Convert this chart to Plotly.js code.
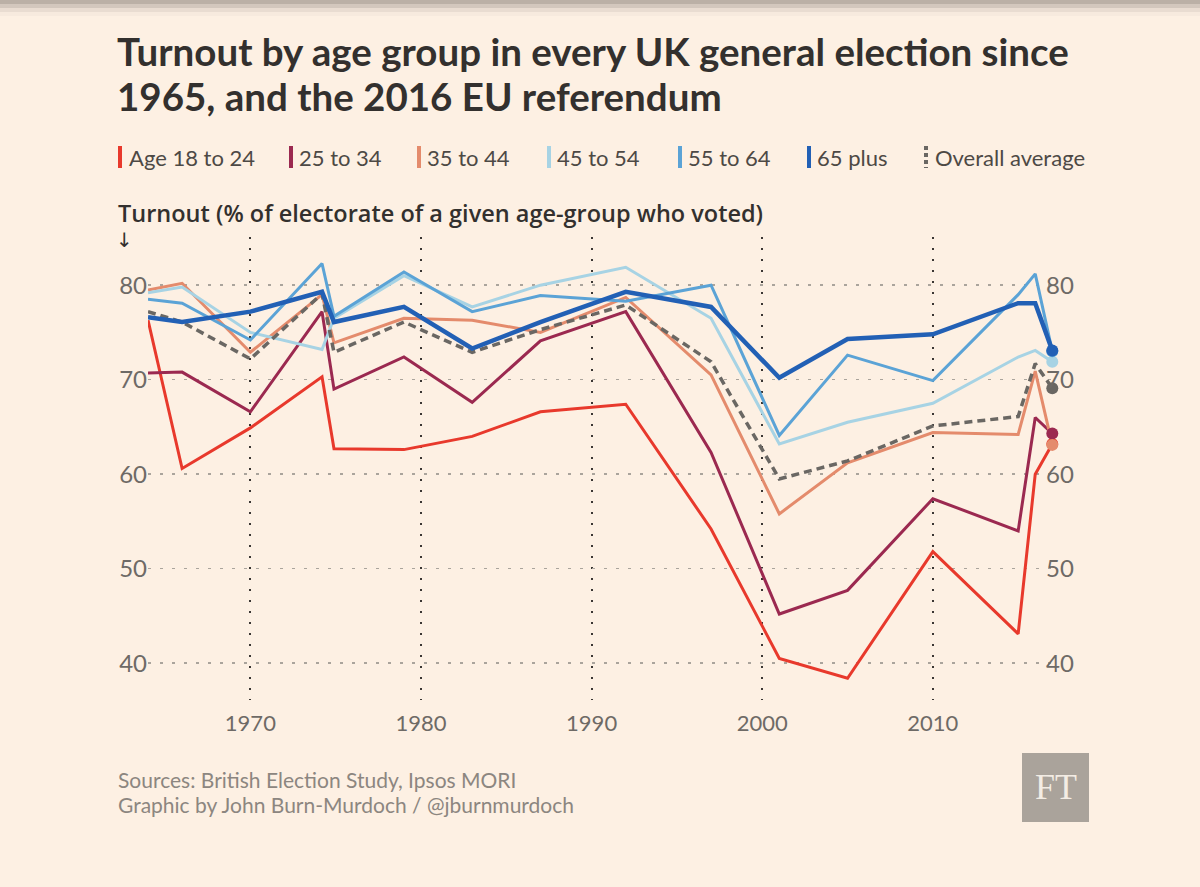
<!DOCTYPE html>
<html>
<head>
<meta charset="utf-8">
<script src="https://cdn.plot.ly/plotly-3.0.1.min.js"></script>
<style>
  html, body { margin: 0; padding: 0; background: #fdf0e3; }
  #chart { width: 1200px; height: 887px; }
</style>
</head>
<body>
<div id="chart"></div>
<script>
// Election dates (Feb and Oct 1974 both shown; 2016 = EU referendum)
const years = [1964, 1966, 1970, 1974.2, 1974.9, 1979, 1983, 1987, 1992, 1997, 2001, 2005, 2010, 2015, 2016, 2017];

const age18to24 = [76.3, 60.6, 64.9, 70.3, 62.7, 62.6, 64.0, 66.6, 67.4, 54.2, 40.5, 38.4, 51.8, 43.1, 60.0, 63.2];
const age25to34 = [70.7, 70.8, 66.6, 77.2, 69.0, 72.4, 67.6, 74.1, 77.2, 62.3, 45.2, 47.7, 57.4, 54.0, 66.0, 64.3];
const age35to44 = [79.5, 80.2, 72.9, 79.0, 73.9, 76.5, 76.3, 75.0, 78.7, 70.5, 55.8, 61.2, 64.4, 64.2, 70.9, 63.1];
const age45to54 = [79.2, 79.8, 75.0, 73.2, 76.5, 81.0, 77.7, 80.0, 81.9, 76.5, 63.2, 65.5, 67.5, 72.4, 73.1, 71.9];
const age55to64 = [78.5, 78.1, 74.2, 82.3, 76.7, 81.4, 77.2, 78.9, 78.3, 80.0, 64.1, 72.6, 69.9, 79.0, 81.2, 73.0];
const age65plus = [76.6, 76.1, 77.2, 79.3, 76.1, 77.7, 73.3, 76.1, 79.3, 77.7, 70.2, 74.3, 74.8, 78.1, 78.1, 73.1];
const overallAvg = [77.2, 76.1, 72.2, 79.1, 72.9, 76.1, 72.9, 75.3, 77.9, 71.9, 59.5, 61.4, 65.1, 66.1, 71.7, 69.1];

const seriesNames = ["Age 18 to 24", "25 to 34", "35 to 44", "45 to 54", "55 to 64", "65 plus", "Overall average"];
const yTickVals = [40, 50, 60, 70, 80];
const xTickVals = [1970, 1980, 1990, 2000, 2010];

const series = [
  {name: seriesNames[0], y: age18to24, color: "#e8392c", width: 3, dash: "solid"},
  {name: seriesNames[1], y: age25to34, color: "#9b2950", width: 3, dash: "solid"},
  {name: seriesNames[2], y: age35to44, color: "#e48b6c", width: 3, dash: "solid"},
  {name: seriesNames[3], y: age45to54, color: "#a7d3e4", width: 3, dash: "solid"},
  {name: seriesNames[4], y: age55to64, color: "#5ba3d6", width: 3, dash: "solid"},
  {name: seriesNames[6], y: overallAvg, color: "#6a6763", width: 3.5, dash: "8px,5px"},
  {name: seriesNames[5], y: age65plus, color: "#2260b5", width: 4.5, dash: "solid"}
];

const traces = [];
series.forEach(s => {
  traces.push({
    type: "scatter", mode: "lines", x: years, y: s.y, name: s.name, xaxis: "x", yaxis: "y",
    line: {color: s.color, width: s.width, dash: s.dash}, hoverinfo: "x+y+name", showlegend: false
  });
});
// end-of-series dots (plotted against the matching right-hand axis)
series.forEach(s => {
  traces.push({
    type: "scatter", mode: "markers", x: years.slice(-1), y: s.y.slice(-1), name: s.name, xaxis: "x", yaxis: "y2",
    marker: {color: s.color, size: 12}, cliponaxis: false, hoverinfo: "skip", showlegend: false
  });
});

// plot area in pixels
const L = 148, R = 1054, T = 237, B = 700;
const px = p => (p - L) / (R - L);
const py = p => (B - p) / (B - T);

const font = "Lato, 'Noto Sans', sans-serif";
const annotations = [];
const shapes = [];

// title (two lines)
annotations.push({xref: "paper", yref: "paper", x: px(115), y: py(51), xanchor: "left", yanchor: "middle",
  text: "Turnout by age group in every UK general election since", showarrow: false,
  font: {family: font, size: 38.5, color: "#33302e", weight: 700}});
annotations.push({xref: "paper", yref: "paper", x: px(115), y: py(96), xanchor: "left", yanchor: "middle",
  text: "1965, and the 2016 EU referendum", showarrow: false,
  font: {family: font, size: 38.5, color: "#33302e", weight: 700}});

// legend (custom, FT style)
const legendItems = [
  {label: seriesNames[0], color: "#e8392c", bar: 120, text: 127},
  {label: seriesNames[1], color: "#9b2950", bar: 291, text: 297},
  {label: seriesNames[2], color: "#e48b6c", bar: 419, text: 425},
  {label: seriesNames[3], color: "#a7d3e4", bar: 549, text: 555},
  {label: seriesNames[4], color: "#5ba3d6", bar: 680, text: 686},
  {label: seriesNames[5], color: "#2260b5", bar: 809, text: 815},
  {label: seriesNames[6], color: "#6a6763", bar: 926, text: 933, dotted: true}
];
legendItems.forEach(it => {
  if (it.dotted) {
    shapes.push({type: "line", xref: "paper", yref: "paper", x0: px(it.bar), x1: px(it.bar),
      y0: py(146), y1: py(168), line: {color: it.color, width: 4, dash: "4px,3px"}});
  } else {
    shapes.push({type: "rect", xref: "paper", yref: "paper", x0: px(it.bar - 2), x1: px(it.bar + 2),
      y0: py(146), y1: py(168), fillcolor: it.color, line: {width: 0}});
  }
  annotations.push({xref: "paper", yref: "paper", x: px(it.text), y: py(157), xanchor: "left", yanchor: "middle",
    text: it.label, showarrow: false, font: {family: font, size: 22, color: "#4d4945"}});
});

// axis title + arrow
annotations.push({xref: "paper", yref: "paper", x: px(116), y: py(213), xanchor: "left", yanchor: "middle",
  text: "Turnout (% of electorate of a given age-group who voted)", showarrow: false,
  font: {family: "'Open Sans', Lato, sans-serif", size: 23.5, color: "#33302e", weight: 600}});
annotations.push({xref: "paper", yref: "paper", x: px(114), y: py(240), xanchor: "left", yanchor: "middle",
  text: "↓", showarrow: false, font: {family: "DejaVu Sans", size: 20, color: "#33302e"}});

// footer
annotations.push({xref: "paper", yref: "paper", x: px(116), y: py(779), xanchor: "left", yanchor: "middle",
  text: "Sources: British Election Study, Ipsos MORI", showarrow: false, font: {family: font, size: 21, color: "#8c8680"}});
annotations.push({xref: "paper", yref: "paper", x: px(116), y: py(804), xanchor: "left", yanchor: "middle",
  text: "Graphic by John Burn-Murdoch / @jburnmurdoch", showarrow: false, font: {family: font, size: 21, color: "#8c8680"}});

// FT logo
shapes.push({type: "rect", xref: "paper", yref: "paper", x0: px(1022), x1: px(1089), y0: py(822), y1: py(753),
  fillcolor: "#aaa39b", line: {width: 0}});
annotations.push({xref: "paper", yref: "paper", x: px(1055.5), y: py(787), xanchor: "center", yanchor: "middle",
  text: "FT", showarrow: false, font: {family: "Liberation Serif", size: 36, color: "#f3ece4"}});

// top shadow band
const band = ["rgba(150,140,130,0.45)", "rgba(160,150,140,0.30)", "rgba(170,160,150,0.18)", "rgba(180,170,160,0.08)"];
band.forEach((c, i) => {
  shapes.push({type: "rect", xref: "paper", yref: "paper", x0: px(0), x1: px(1200), y0: py(0), y1: py(4 * (i + 1)),
    fillcolor: c, line: {width: 0}, layer: "below"});
});

const layout = {
  width: 1200, height: 887,
  paper_bgcolor: "#fdf0e3", plot_bgcolor: "#fdf0e3",
  margin: {l: L, r: 1200 - R, t: T, b: 887 - B, pad: 0},
  showlegend: false,
  xaxis: {
    range: [1964, 2017.1], tickvals: xTickVals, ticktext: xTickVals.map(String), domain: [0, 1],
    showgrid: true, gridcolor: "#3a3633", gridwidth: 2, griddash: "2px,9px",
    zeroline: false, showline: false, ticks: "", ticklabelstandoff: 8,
    tickfont: {family: font, size: 22, color: "#6e6a66"}
  },
  yaxis: {
    range: [36.1, 85.1], tickvals: yTickVals, ticktext: yTickVals.map(String),
    showgrid: true, gridcolor: "#aaa49c", gridwidth: 1.5, griddash: "3px,9px",
    zeroline: false, showline: false, ticks: "", side: "left",
    tickfont: {family: font, size: 24, color: "#6e6a66"}
  },
  yaxis2: {
    range: [36.1, 85.1], tickvals: yTickVals, ticktext: yTickVals.map(String),
    overlaying: "y", side: "right", anchor: "free", position: px(1045),
    showgrid: false, zeroline: false, showline: false, ticks: "",
    tickfont: {family: font, size: 24, color: "#6e6a66"}
  },
  annotations: annotations,
  shapes: shapes
};

Plotly.newPlot("chart", traces, layout, {displayModeBar: false, staticPlot: true});
</script>
</body>
</html>
